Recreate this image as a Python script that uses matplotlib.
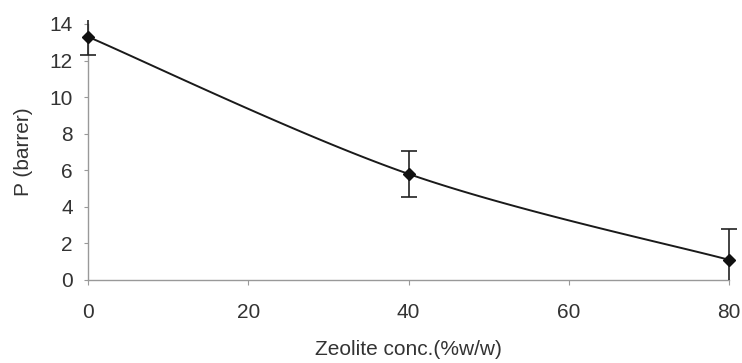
import matplotlib
matplotlib.use('Agg')
import matplotlib.pyplot as plt
import matplotlib.patches as patches
import numpy as np

# Permeability vs zeolite loading
zeolite = [0, 40, 80]
perm = [13.3, 5.8, 1.1]
perm_err = [1.0, 1.25, 1.7]

x_ticks = [0, 20, 40, 60, 80]
y_ticks = [0, 2, 4, 6, 8, 10, 12, 14]


def smooth_curve(xs, ys, n=60):
    """Excel-style smoothed line: cubic Bezier through the points."""
    xs = np.asarray(xs, float)
    ys = np.asarray(ys, float)
    px, py = [], []
    m = len(xs)
    for i in range(m - 1):
        x0, y0 = (xs[i - 1], ys[i - 1]) if i > 0 else (xs[i], ys[i])
        x1, y1 = xs[i], ys[i]
        x2, y2 = xs[i + 1], ys[i + 1]
        x3, y3 = (xs[i + 2], ys[i + 2]) if i + 2 < m else (x2, y2)
        c1 = (x1 + (x2 - x0) / 6, y1 + (y2 - y0) / 6)
        c2 = (x2 - (x3 - x1) / 6, y2 - (y3 - y1) / 6)
        t = np.linspace(0, 1, n)
        bx = (1 - t) ** 3 * x1 + 3 * (1 - t) ** 2 * t * c1[0] + 3 * (1 - t) * t ** 2 * c2[0] + t ** 3 * x2
        by = (1 - t) ** 3 * y1 + 3 * (1 - t) ** 2 * t * c1[1] + 3 * (1 - t) * t ** 2 * c2[1] + t ** 3 * y2
        px.extend(bx)
        py.extend(by)
    return px, py


plt.rcParams['font.family'] = ['Liberation Sans', 'DejaVu Sans']

fig = plt.figure(figsize=(7.42, 3.63), dpi=100)
ax = fig.add_axes([0.1186, 0.2287, 0.864, 0.7053])

# Smoothed connecting line
sx, sy = smooth_curve(zeolite, perm)
ax.plot(sx, sy, color='#1a1a1a', linewidth=1.4, zorder=2, clip_on=False)

# Points with error bars
eb = ax.errorbar(
    zeolite, perm, yerr=perm_err,
    fmt='D', color='#111111', markersize=6.5,
    ecolor='#222222', elinewidth=1.2, capsize=5.5, capthick=1.2,
    zorder=3,
)

# Clip error bars just outside the plot area top/bottom; caps may overhang sides
clip_rect = patches.Rectangle((-0.1, 0), 1.2, 1.016, transform=ax.transAxes,
                              fill=False, visible=False)
ax.add_patch(clip_rect)
artists = [eb.lines[0]] + list(eb.lines[1]) + list(eb.lines[2])
for a in artists:
    a.set_clip_path(clip_rect)

ax.set_xlim(0, 80)
ax.set_ylim(0, 14)
ax.set_xticks(x_ticks)
ax.set_yticks(y_ticks)

for pos in ['top', 'right']:
    ax.spines[pos].set_visible(False)
for pos in ['left', 'bottom']:
    ax.spines[pos].set_color('#999999')
    ax.spines[pos].set_linewidth(1.0)

ax.tick_params(axis='y', direction='out', length=3, color='#999999',
               labelsize=15, pad=8, labelcolor='#333333')
ax.tick_params(axis='x', direction='out', length=3.6, color='#999999',
               labelsize=15, pad=13, labelcolor='#333333')

ax.set_ylabel('P (barrer)', fontsize=15, color='#333333', labelpad=12)
ax.set_xlabel('Zeolite conc.(%w/w)', fontsize=15, color='#333333', labelpad=13)

fig.savefig('out.png', dpi=100)
